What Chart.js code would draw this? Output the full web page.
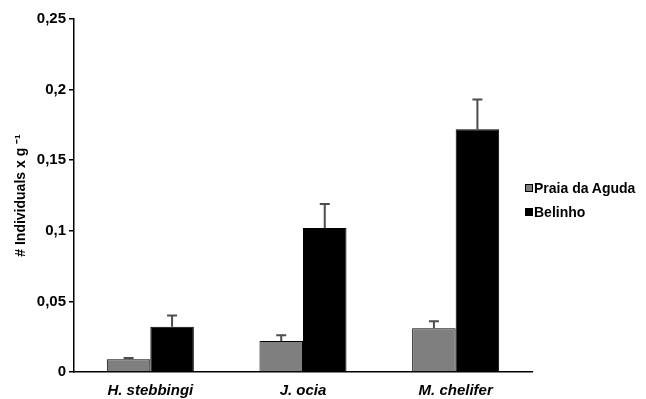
<!DOCTYPE html>
<html>
<head>
<meta charset="utf-8">
<script src="https://cdn.jsdelivr.net/npm/chart.js@4/dist/chart.umd.min.js"></script>
<style>
  html, body { margin: 0; padding: 0; background: #fff; }
  #wrap { position: relative; width: 646px; height: 399px; }
  #legend { position: absolute; left: 525px; top: 176px;
            font: bold 14px 'Liberation Sans', Arial, sans-serif; color: #000; }
  #legend div { display: flex; align-items: center; height: 24px; white-space: nowrap; }
  #legend span.box { width: 6px; height: 6px; border: 1px solid #000; margin-right: 1px; }
</style>
</head>
<body>
<div id="wrap"><canvas id="chart"></canvas><div id="legend"></div></div>
<script>
// ── Data ───────────────────────────────────────────
const species    = ['H. stebbingi', 'J. ocia', 'M. chelifer'];
const aguda      = [0.009, 0.022, 0.031];
const agudaErr   = [0.001, 0.004, 0.005];
const belinho    = [0.032, 0.102, 0.172];
const belinhoErr = [0.008, 0.017, 0.021];
const yTicks     = [0, 0.05, 0.1, 0.15, 0.2, 0.25];

const FONT = "'Liberation Sans', Arial, sans-serif";

// upward-only error bars drawn on top of each bar
const errorBars = {
  id: 'errorBars',
  afterDatasetsDraw(chart) {
    const { ctx } = chart;
    const y = chart.scales.y;
    ctx.save();
    ctx.strokeStyle = '#4d4d4d';
    ctx.lineWidth = 2;
    chart.data.datasets.forEach((ds, di) => {
      const meta = chart.getDatasetMeta(di);
      meta.data.forEach((bar, i) => {
        const top = y.getPixelForValue(ds.data[i] + ds.errors[i]);
        const base = y.getPixelForValue(ds.data[i]);
        ctx.beginPath();
        ctx.moveTo(bar.x, base);
        ctx.lineTo(bar.x, top);
        ctx.moveTo(bar.x - 5, top);
        ctx.lineTo(bar.x + 5, top);
        ctx.stroke();
      });
    });
    ctx.restore();
  }
};

// category names under the axis, placed at the x scale's tick pixels
const categoryLabels = {
  id: 'categoryLabels',
  afterDraw(chart) {
    const { ctx } = chart;
    const x = chart.scales.x;
    ctx.save();
    ctx.fillStyle = '#000';
    ctx.font = `italic bold 15px ${FONT}`;
    ctx.textAlign = 'center';
    ctx.textBaseline = 'middle';
    chart.data.labels.forEach((lab, i) => {
      ctx.fillText(lab, x.getPixelForTick(i), chart.chartArea.bottom + 19);
    });
    ctx.restore();
  }
};

const chart = new Chart(document.getElementById('chart'), {
  type: 'bar',
  data: {
    labels: species,
    datasets: [
      { label: 'Praia da Aguda', data: aguda, errors: agudaErr,
        backgroundColor: '#7f7f7f', borderColor: '#000', borderWidth: 1,
        categoryPercentage: 0.57, barPercentage: 1 },
      { label: 'Belinho', data: belinho, errors: belinhoErr,
        backgroundColor: '#000', borderColor: '#000', borderWidth: 1,
        categoryPercentage: 0.57, barPercentage: 1 }
    ]
  },
  options: {
    responsive: true,
    maintainAspectRatio: false,
    animation: false,
    layout: { padding: { top: 19, left: 13, right: 114, bottom: 27 } },
    plugins: {
      tooltip: { enabled: false },
      legend: { display: false }
    },
    scales: {
      x: {
        grid: { display: false, drawTicks: false },
        border: { color: '#000', width: 1.5 },
        ticks: { display: false }
      },
      y: {
        min: 0, max: 0.25,
        afterBuildTicks: ax => { ax.ticks = yTicks.map(v => ({ value: v })); },
        grid: { display: true, drawOnChartArea: false, drawTicks: true,
                tickLength: 5, color: '#000', lineWidth: 1.5 },
        border: { color: '#000', width: 1.5 },
        title: {
          display: true, text: '# Individuals x g ⁻¹', color: '#000',
          padding: { top: 0, bottom: 4 },
          font: { family: FONT, size: 14, weight: 'bold' }
        },
        ticks: {
          color: '#000', padding: 3,
          font: { family: FONT, size: 15, weight: 'bold' },
          callback: v => Number(v.toFixed(2)).toString().replace('.', ',')
        }
      }
    }
  },
  plugins: [errorBars, categoryLabels]
});

// legend built from the datasets
document.getElementById('legend').innerHTML = chart.data.datasets.map(ds =>
  `<div><span class="box" style="background:${ds.backgroundColor}"></span>${ds.label}</div>`
).join('');
</script>
</body>
</html>
